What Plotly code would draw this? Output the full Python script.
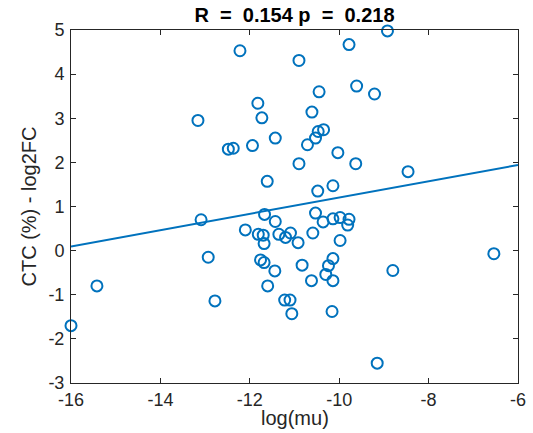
import plotly.graph_objects as go

log_mu = [-16.00, -15.42, -13.16, -13.09, -12.93, -12.78, -12.22, -12.48, -12.37,
          -11.82, -11.73, -11.94, -11.43, -11.61, -10.90, -10.90, -11.67, -11.43,
          -12.10, -11.81, -11.70, -11.68, -11.35, -11.20, -11.09, -10.92, -11.76,
          -11.68, -11.44, -11.60, -11.22, -11.10, -11.06, -10.83, -8.92, -9.78,
          -9.61, -10.45, -9.21, -10.61, -10.35, -10.47, -10.53, -10.71, -10.03,
          -9.63, -8.46, -10.14, -10.48, -10.53, -10.14, -9.98, -9.78, -9.81,
          -10.36, -10.59, -9.98, -6.54, -10.14, -10.24, -10.30, -8.80, -10.62,
          -10.14, -10.16, -9.15]
ctc_log2fc = [-1.70, -0.80, 2.95, 0.70, -0.15, -1.14, 4.53, 2.30, 2.32,
              3.34, 3.01, 2.38, 2.55, 1.57, 4.31, 1.97, 0.82, 0.66,
              0.47, 0.37, 0.35, 0.16, 0.37, 0.30, 0.40, 0.18, -0.21,
              -0.27, -0.46, -0.80, -1.12, -1.12, -1.43, -0.33, 4.98, 4.67,
              3.73, 3.60, 3.55, 3.14, 2.74, 2.70, 2.55, 2.40, 2.22,
              1.97, 1.79, 1.47, 1.35, 0.85, 0.72, 0.75, 0.71, 0.58,
              0.65, 0.40, 0.23, -0.07, -0.18, -0.34, -0.54, -0.45, -0.68,
              -0.68, -1.38, -2.55]

fit_x = [-16, -6]
fit_y = [0.095, 1.94]

x_ticks = [-16, -14, -12, -10, -8, -6]
y_ticks = [-3, -2, -1, 0, 1, 2, 3, 4, 5]

title_text = "R  =  0.154 p  =  0.218"
x_label = "log(mu)"
y_label = "CTC (%) - log2FC"

blue = "#0072BD"
axc = "#262626"
FONT = "Liberation Sans, Arial, Helvetica, sans-serif"

fig = go.Figure()
fig.add_trace(go.Scatter(
    x=log_mu, y=ctc_log2fc, mode="markers",
    marker=dict(symbol="circle-open", size=11, color=blue, line=dict(width=2, color=blue)),
    showlegend=False, cliponaxis=False,
))
fig.add_trace(go.Scatter(
    x=fit_x, y=fit_y, mode="lines",
    line=dict(color=blue, width=2), showlegend=False,
))

axis_common = dict(
    showgrid=False, zeroline=False, showline=True, linecolor=axc, linewidth=1,
    mirror="allticks", ticks="inside", ticklen=5, tickcolor=axc, automargin=False,
    tickfont=dict(family=FONT, size=18, color=axc),
)

fig.update_layout(
    width=533, height=433,
    margin=dict(l=71, r=15, t=30, b=50),
    paper_bgcolor="white", plot_bgcolor="white",
    title=dict(text="<b>" + title_text + "</b>", x=0.5525, xanchor="center", y=0.966, yanchor="middle",
               font=dict(family=FONT, size=20, color="black")),
    xaxis=dict(range=[-16, -6], tickvals=x_ticks, ticktext=[str(v) for v in x_ticks],
               ticklabelstandoff=0, **axis_common),
    yaxis=dict(range=[-3, 5], tickvals=y_ticks, ticktext=[str(v) for v in y_ticks],
               ticklabelstandoff=2,
               title=dict(text=y_label, standoff=6,
                          font=dict(family=FONT, size=20, color=axc)),
               **axis_common),
    annotations=[dict(text=x_label, xref="paper", yref="paper", x=0.5, y=-0.098,
                      xanchor="center", yanchor="middle", showarrow=False,
                      font=dict(family=FONT, size=20, color=axc))],
)

fig.write_html("out.html", config={"displayModeBar": False},
               post_script="document.body.style.margin='0';document.body.style.overflow='hidden';")
